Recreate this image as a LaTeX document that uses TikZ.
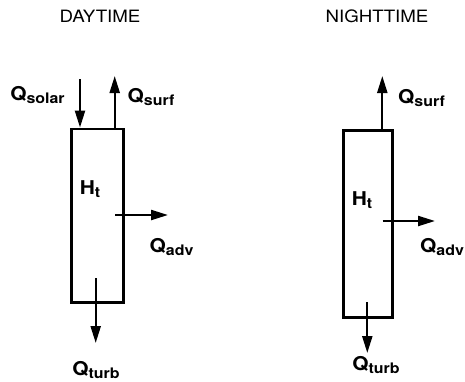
\documentclass[tikz,border=0pt]{standalone}
\usepackage{fontspec}
\newfontfamily\lettering{TeX Gyre Heros}[FakeStretch=1.1]
\usetikzlibrary{arrows.meta}
\newcommand{\qlab}[2]{#1\raisebox{-0.25ex}{\fontsize{14.5}{15}\selectfont #2}}

\begin{document}
\begin{tikzpicture}[x=1pt, y=-1pt,
    column/.style={draw, line width=2.8pt, inner sep=0pt},
    flux/.style={-{Triangle[length=17pt,width=10pt]}, line width=2.2pt},
    title/.style={font=\lettering\fontsize{17}{19}\selectfont, inner sep=0pt},
    qlabel/.style={font=\lettering\bfseries\fontsize{19}{21}\selectfont, inner sep=0pt}
  ]
  \useasboundingbox (0,0) rectangle (465,381);

  % daytime column
  \node[title] (daytitle) at (100,16) {DAYTIME};
  \node[column, minimum width=51.7pt, minimum height=173.7pt] (daybox) at (97.3,215.8) {};
  \node[qlabel] (dayheat) at (90,189) {\qlab{H}{t}};
  \coordinate (solarin) at (80,79);
  \coordinate (daysurfout) at (114.7,76);
  \coordinate (dayadvin) at (115,215);
  \coordinate (dayadvout) at (168,215);
  \coordinate (dayturbin) at (95.7,278);
  \coordinate (dayturbout) at (95.7,343);
  \node[qlabel] (solarlab) at (37.5,95) {\qlab{Q}{solar}};
  \node[qlabel] (daysurflab) at (151,97) {\qlab{Q}{surf}};
  \node[qlabel] (dayadvlab) at (171.5,247) {\qlab{Q}{adv}};
  \node[qlabel] (dayturblab) at (96,370) {\qlab{Q}{turb}};

  \draw[flux] (solarin) -- (solarin |- daybox.north);
  \draw[flux] (daysurfout |- daybox.north) -- (daysurfout);
  \draw[flux] (dayadvin) -- (dayadvout);
  \draw[flux] (dayturbin) -- (dayturbout);

  % nighttime column
  \node[title] (nighttitle) at (377,16) {NIGHTTIME};
  \node[column, minimum width=49.5pt, minimum height=186.9pt] (nightbox) at (367.9,224.2) {};
  \node[qlabel] (nightheat) at (362,200) {\qlab{H}{t}};
  \coordinate (nightsurfout) at (382.3,76);
  \coordinate (nightadvin) at (382.7,221);
  \coordinate (nightadvout) at (435,221);
  \coordinate (nightturbin) at (367.3,302);
  \coordinate (nightturbout) at (367.3,353);
  \node[qlabel] (nightsurflab) at (421.5,98) {\qlab{Q}{surf}};
  \node[qlabel] (nightadvlab) at (442,247) {\qlab{Q}{adv}};
  \node[qlabel] (nightturblab) at (376,365) {\qlab{Q}{turb}};

  \draw[flux] (nightsurfout |- nightbox.north) -- (nightsurfout);
  \draw[flux] (nightadvin) -- (nightadvout);
  \draw[flux] (nightturbin) -- (nightturbout);
\end{tikzpicture}
\end{document}
